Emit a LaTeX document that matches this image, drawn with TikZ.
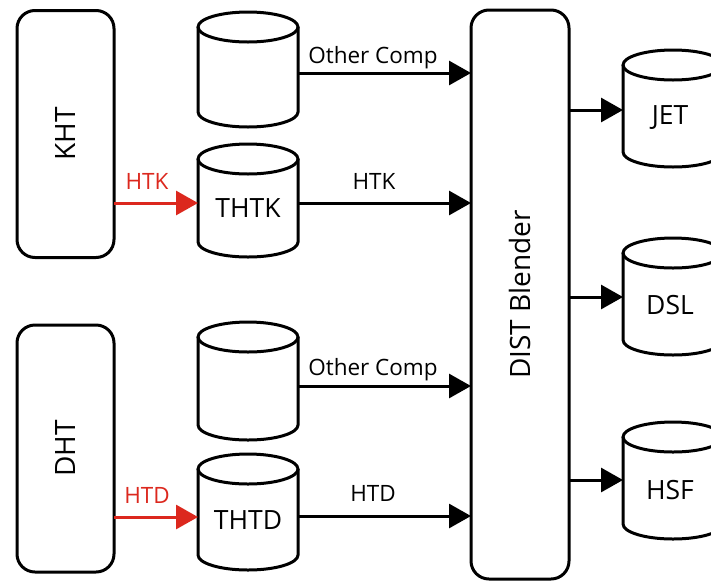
\documentclass[tikz,border=0pt]{standalone}
\usepackage{fontspec}
\setmainfont{Open Sans}
\usetikzlibrary{arrows.meta,calc}
\definecolor{redline}{RGB}{220,40,30}
\newcommand\drawcyl[1]{%
  \draw[cylline] ($(#1.north west)+(0,15)$) -- ($(#1.south west)+(0,-15)$)
     arc[start angle=180,end angle=0,x radius=50,y radius=15]
     -- ($(#1.north east)+(0,15)$);
  \draw[cylline] ($(#1.north)+(0,15)$) ellipse[x radius=50,y radius=15];
}
\begin{document}
\begin{tikzpicture}[x=1pt,y=-1pt,
  cylline/.style={line width=3pt,draw=black},
  cylbox/.style={draw=none,minimum width=100pt,inner sep=0pt,outer sep=0pt},
  roundbox/.style={draw=black,line width=3pt,rounded corners=18pt,inner sep=0pt,outer sep=0pt},
  flow/.style={line width=3pt,draw=black,-{Triangle[length=22pt,width=24pt]}},
  redflow/.style={line width=3pt,draw=redline,-{Triangle[length=22pt,width=24pt]}},
  boxlabel/.style={font=\fontsize{28}{33}\selectfont,rotate=90},
  cyllabel/.style={font=\fontsize{26.5}{31}\selectfont},
  arrlabel/.style={font=\fontsize{22.5}{27}\selectfont,anchor=base,inner sep=0pt}]
\useasboundingbox (0,0) rectangle (711,582);
\clip (0,0) rectangle (711,582);
\fill[white] (0,0) rectangle (711,582);

% boxes
\node[roundbox,minimum width=97pt,minimum height=247pt] (kht) at (65.5,134) {};
\node[boxlabel] at (kht.center) {KHT};
\node[roundbox,minimum width=97pt,minimum height=247pt] (dht) at (65.5,448.5) {};
\node[boxlabel] at (dht.center) {DHT};
\node[roundbox,minimum width=98pt,minimum height=569pt] (dist) at (520,294.5) {};
\node[boxlabel] at (dist.center) {DIST Blender};

% left cylinders
\node[cylbox,minimum height=115pt] (oc1) at (248,69.5) {};
\node[cylbox,minimum height=113pt] (thtk) at (248,200.5) {};
\node[cylbox,minimum height=118pt] (oc2) at (248,381) {};
\node[cylbox,minimum height=116pt] (thtd) at (248,512) {};
\drawcyl{oc1}
\drawcyl{thtk}
\drawcyl{oc2}
\drawcyl{thtd}
\node[cyllabel] at (248,208) {THTK};
\node[cyllabel] at (248,520) {THTD};

% right cylinders
\node[cylbox,minimum height=117pt] (jet) at (673,108.5) {};
\node[cylbox,minimum height=117pt] (dsl) at (673,296.5) {};
\node[cylbox,minimum height=117pt] (hsf) at (673,480.5) {};
\drawcyl{jet}
\drawcyl{dsl}
\drawcyl{hsf}
\node[cyllabel] at (670,118) {JET};
\node[cyllabel] at (670,305) {DSL};
\node[cyllabel] at (670,490) {HSF};

% coordinates for connectors
\coordinate (a1) at (oc1.east |- 0,73);
\coordinate (a2) at (thtk.east |- 0,203);
\coordinate (a3) at (oc2.east |- 0,386);
\coordinate (a4) at (thtd.east |- 0,516);
\draw[flow] (a1) -- (a1 -| dist.west);
\draw[flow] (a2) -- (a2 -| dist.west);
\draw[flow] (a3) -- (a3 -| dist.west);
\draw[flow] (a4) -- (a4 -| dist.west);
\node[arrlabel] at (373,63) {Other Comp};
\node[arrlabel] at (374,189) {HTK};
\node[arrlabel] at (373,375) {Other Comp};
\node[arrlabel] at (373,501) {HTD};

\coordinate (r1) at (dist.east |- 0,110);
\coordinate (r2) at (dist.east |- 0,297);
\coordinate (r3) at (dist.east |- 0,480);
\draw[flow] (r1) -- (r1 -| jet.west);
\draw[flow] (r2) -- (r2 -| dsl.west);
\draw[flow] (r3) -- (r3 -| hsf.west);

% red connectors
\coordinate (k1) at (kht.east |- 0,203);
\coordinate (d1) at (dht.east |- 0,517);
\draw[redflow] (k1) -- (k1 -| thtk.west);
\draw[redflow] (d1) -- (d1 -| thtd.west);
\node[arrlabel,text=redline] at (147,189) {HTK};
\node[arrlabel,text=redline] at (147,503) {HTD};
\end{tikzpicture}
\end{document}
